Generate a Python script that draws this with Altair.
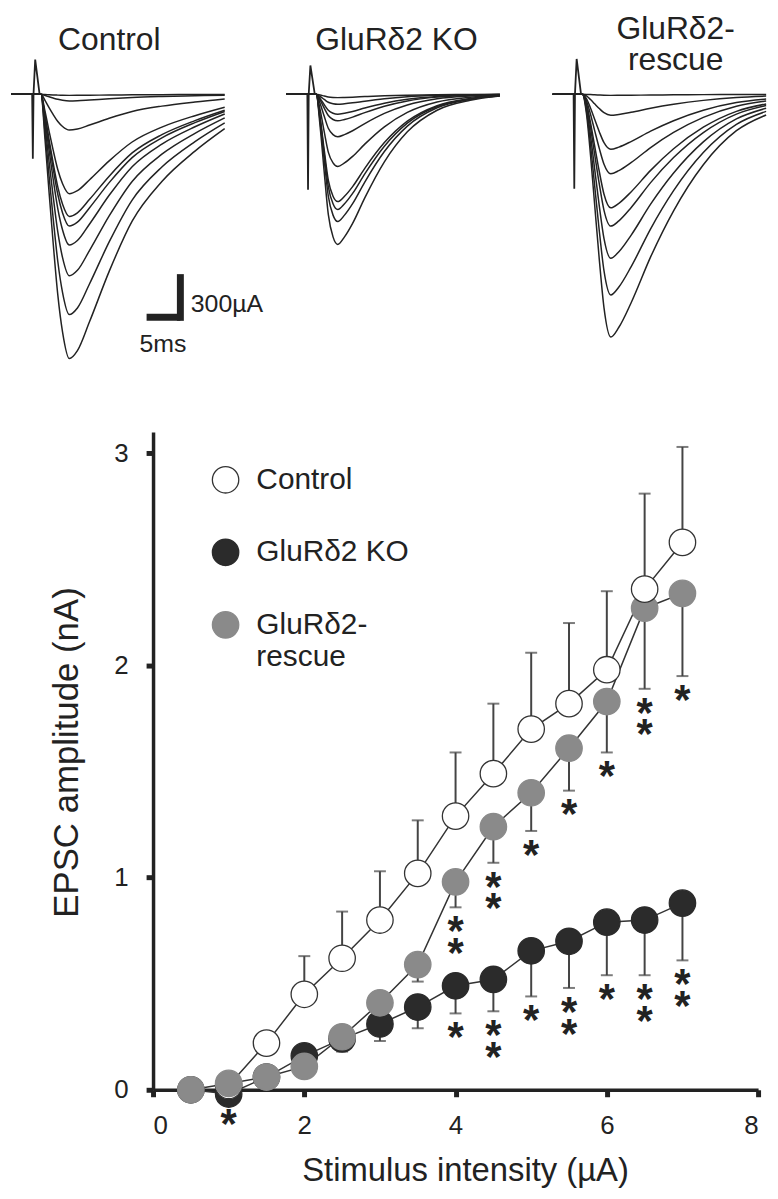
import altair as alt
import pandas as pd

FONT = "Liberation Sans"
INK = "#222222"

# ------------------------------------------------------------------
# Data
# ------------------------------------------------------------------
group_names = ["Control", "GluRδ2 KO", "GluRδ2-rescue"]

# Top: superimposed EPSC sweeps - peak amplitude of every sweep (pA)
peaks_control = [8, 50, 270, 750, 922, 995, 1138, 1370, 1663, 1995]
peaks_ko = [25, 75, 150, 200, 320, 545, 810, 870, 960, 1133]
peaks_rescue = [8, 158, 415, 600, 857, 995, 1238, 1515, 1832]

# normalised EPSC waveform of each genotype, sampled at these times (ms after stimulus)
sweep_time_ms = [-3.2, 1.2, 1.8, 2.4, 3.0, 3.7, 4.4, 5.4, 6.6, 8.4, 11.3, 14.7, 19.1, 24.0, 28.4]
shape_control = [0, 0, 0.17, 0.37, 0.56, 0.76, 0.90, 1.0, 0.97, 0.86, 0.67, 0.48, 0.33, 0.215, 0.13]
shape_ko = [0, 0, 0.22, 0.52, 0.80, 0.95, 1.0, 0.95, 0.86, 0.69, 0.45, 0.25, 0.106, 0.04, 0.012]
shape_rescue = [0, 0, 0.08, 0.25, 0.45, 0.68, 0.88, 1.0, 0.96, 0.86, 0.67, 0.48, 0.29, 0.15, 0.085]

# stimulus artefact (ms after stimulus; downward / upward deflection in pA)
artifact_time_ms = [-0.1, 0.0, 0.1, 0.35, 1.0]
artifact_down = [487, 720, 712]
artifact_up = [262, 218, 267]

scale_bar_ms = 5
scale_bar_amp = 300
scale_labels = ["300µA", "5ms"]

# Bottom: input-output relation
stimulus = [0.5, 1.0, 1.5, 2.0, 2.5, 3.0, 3.5, 4.0, 4.5, 5.0, 5.5, 6.0, 6.5, 7.0]
control_mean = [None, 0.02, 0.22, 0.45, 0.62, 0.80, 1.02, 1.29, 1.49, 1.70, 1.82, 1.98, 2.36, 2.58]
control_sem = [None, 0.02, 0.04, 0.18, 0.22, 0.23, 0.25, 0.30, 0.33, 0.36, 0.38, 0.37, 0.45, 0.45]
ko_mean = [0.0, -0.02, 0.06, 0.16, 0.24, 0.31, 0.39, 0.49, 0.52, 0.655, 0.70, 0.79, 0.80, 0.88]
ko_sem = [0.0, 0.03, 0.03, 0.05, 0.06, 0.08, 0.10, 0.13, 0.15, 0.215, 0.22, 0.25, 0.26, 0.27]
rescue_mean = [0.0, 0.03, 0.06, 0.11, 0.25, 0.41, 0.59, 0.98, 1.24, 1.40, 1.61, 1.83, 2.27, 2.34]
rescue_sem = [0.0, 0.02, 0.03, 0.04, 0.06, 0.07, 0.08, 0.12, 0.17, 0.18, 0.20, 0.24, 0.38, 0.39]
control_stars = [0] * 14
ko_stars = [0, 1, 0, 0, 0, 0, 0, 1, 2, 1, 2, 1, 2, 2]
rescue_stars = [0, 0, 0, 0, 0, 0, 0, 2, 2, 1, 1, 1, 2, 1]

x_ticks = [0, 2, 4, 6, 8]
y_ticks = [0, 1, 2, 3]

# ------------------------------------------------------------------
# Layout (pixels of the page)
# ------------------------------------------------------------------
PLOT_LEFT = 151      # page x of the y axis / left edge of both plot areas
TOP_W, TOP_H = 619, 352
PX_PER_MS = 6.8
PA_PER_PX = 7.5
BASE_Y = 90          # page y of the trace baseline
TOP_Y0 = 8
BOTTOM_Y0 = 430


def t_at(px):
    return (px - PLOT_LEFT) / PX_PER_MS


def a_at(py):
    return (BASE_Y - py) * PA_PER_PX


stim_px = [30, 307, 575]

# ------------------------------------------------------------------
# Top panel
# ------------------------------------------------------------------
rows = []
art_rows = []
for g, (peaks, shape, sx) in enumerate(zip([peaks_control, peaks_ko, peaks_rescue],
                                           [shape_control, shape_ko, shape_rescue], stim_px)):
    t0 = t_at(sx)
    for i, p in enumerate(peaks):
        for t, s in zip(sweep_time_ms, shape):
            rows.append({"trace": f"{g}-{i}", "t": t0 + t, "amp": -p * s})
    amps = [0, -artifact_down[g], 0, artifact_up[g], 0]
    for t, a in zip(artifact_time_ms, amps):
        art_rows.append({"grp": g, "t": t0 + t, "amp": a})
traces = pd.DataFrame(rows)
artifacts = pd.DataFrame(art_rows)

xs = alt.Scale(domain=[0, TOP_W / PX_PER_MS], nice=False, zero=False)
ys = alt.Scale(domain=[a_at(TOP_Y0 + TOP_H), a_at(TOP_Y0)], nice=False, zero=False)

trace_layer = alt.Chart(traces).mark_line(
    interpolate="monotone", color=INK, strokeWidth=1.5
).encode(
    x=alt.X("t:Q", scale=xs, axis=None),
    y=alt.Y("amp:Q", scale=ys, axis=None),
    detail="trace:N",
)

artifact_layer = alt.Chart(artifacts).mark_line(color=INK, strokeWidth=1.8).encode(
    x=alt.X("t:Q", scale=xs, axis=None),
    y=alt.Y("amp:Q", scale=ys, axis=None),
    detail="grp:N",
)

titles = pd.DataFrame({
    "label": ["Control", "GluRδ2 KO", "GluRδ2-", "rescue"],
    "t": [t_at(107), t_at(396), t_at(677), t_at(677)],
    "amp": [a_at(45), a_at(45), a_at(34), a_at(66)],
})
title_layer = alt.Chart(titles).mark_text(
    fontSize=32, align="center", baseline="alphabetic", color=INK
).encode(
    x=alt.X("t:Q", scale=xs, axis=None),
    y=alt.Y("amp:Q", scale=ys, axis=None),
    text="label:N",
)

tc, ac = t_at(178.5), a_at(314.5)
vbar = pd.DataFrame({"t": [tc], "a": [ac], "a2": [ac + scale_bar_amp]})
hbar = pd.DataFrame({"t": [tc - scale_bar_ms], "t2": [tc], "a": [ac]})
vbar_layer = alt.Chart(vbar).mark_rule(color=INK, strokeWidth=7, strokeCap="square").encode(
    x=alt.X("t:Q", scale=xs, axis=None),
    y=alt.Y("a:Q", scale=ys, axis=None),
    y2="a2:Q",
)
hbar_layer = alt.Chart(hbar).mark_rule(color=INK, strokeWidth=7).encode(
    x=alt.X("t:Q", scale=xs, axis=None),
    x2="t2:Q",
    y=alt.Y("a:Q", scale=ys, axis=None),
)
sb_text = pd.DataFrame({
    "label": scale_labels,
    "t": [t_at(189), t_at(161)],
    "amp": [a_at(301), a_at(341)],
})
sb_amp = alt.Chart(sb_text.iloc[[0]]).mark_text(
    fontSize=25, align="left", baseline="middle", color=INK
).encode(x=alt.X("t:Q", scale=xs, axis=None), y=alt.Y("amp:Q", scale=ys, axis=None), text="label:N")
sb_time = alt.Chart(sb_text.iloc[[1]]).mark_text(
    fontSize=25, align="center", baseline="middle", color=INK
).encode(x=alt.X("t:Q", scale=xs, axis=None), y=alt.Y("amp:Q", scale=ys, axis=None), text="label:N")

top = alt.layer(
    trace_layer, artifact_layer, title_layer, vbar_layer, hbar_layer, sb_amp, sb_time
).properties(width=TOP_W, height=TOP_H)

# ------------------------------------------------------------------
# Bottom panel
# ------------------------------------------------------------------
prow = []
srow = []
zbase = {"Control": 2, "GluRδ2 KO": 0, "GluRδ2-rescue": 1}
for name, means, sems, stars in [
    ("Control", control_mean, control_sem, control_stars),
    ("GluRδ2 KO", ko_mean, ko_sem, ko_stars),
    ("GluRδ2-rescue", rescue_mean, rescue_sem, rescue_stars),
]:
    for x, m, s, st in zip(stimulus, means, sems, stars):
        if m is None:
            continue
        end = m + s if name == "Control" else m - s
        z = zbase[name]
        if name == "Control" and x <= 1.0:
            z = 0.5
        prow.append({"series": name, "stim": x, "mean": m, "end": end, "z": z})
        for k in range(st):
            srow.append({"series": name, "stim": x, "end": end, "k": k})
points = pd.DataFrame(prow)
stars_df = pd.DataFrame(srow)

XT = "Stimulus intensity (µA)"
YT = "EPSC amplitude (nA)"
bx = alt.Scale(domain=[0, 8], nice=False, zero=False)
by = alt.Scale(domain=[0, 3.1], nice=False, zero=False)

x_axis = alt.Axis(
    values=x_ticks, format="d", grid=False, tickSize=7, tickWidth=5, domainWidth=3.5,
    domainColor=INK, tickColor=INK, labelColor=INK, labelFontSize=26, labelPadding=16,
    titleFontSize=33, titleFontWeight="normal", titleColor=INK, titlePadding=16, titleX=314,
)
y_axis = alt.Axis(
    values=y_ticks, format="d", grid=False, tickSize=7, tickWidth=5, domainWidth=3.5,
    domainColor=INK, tickColor=INK, labelColor=INK, labelFontSize=26, labelPadding=18,
    titleFontSize=35, titleFontWeight="normal", titleColor=INK, titlePadding=30, titleY=322,
)

X = alt.X("stim:Q", scale=bx, axis=x_axis, title=XT)
base = alt.Chart(points)

lines = base.mark_line(color="#333333", strokeWidth=1.5).encode(
    x=X, y=alt.Y("mean:Q", scale=by, axis=y_axis, title=YT), detail="series:N"
)
err = base.mark_rule(color="#444444", strokeWidth=2).encode(
    x=X, y=alt.Y("mean:Q", scale=by, axis=y_axis, title=YT), y2="end:Q"
)
caps = base.mark_tick(orient="horizontal", size=12, thickness=2, color="#444444").encode(
    x=X, y=alt.Y("end:Q", scale=by, axis=y_axis, title=YT)
)

# legend position is measured from the top of the whole figure in a vconcat
leg = alt.Legend(
    orient="none", legendX=58, legendY=(BOTTOM_Y0 - TOP_Y0) + 33, title=None, padding=0,
    labelFontSize=30, labelColor=INK, labelOffset=16, labelLimit=0,
    symbolSize=707, symbolStrokeWidth=1.3, symbolType="circle", rowPadding=41,
    labelExpr="datum.label == 'GluRδ2-rescue' ? ['GluRδ2-', ' rescue'] : datum.label",
)
fills = ["#ffffff", "#2b2b2b", "#8a8a8a"]
strokes = ["#333333", "#2b2b2b", "#8a8a8a"]
circles = base.mark_circle(size=707, opacity=1, strokeWidth=1.3).encode(
    x=X,
    y=alt.Y("mean:Q", scale=by, axis=y_axis, title=YT),
    fill=alt.Fill("series:N", scale=alt.Scale(domain=group_names, range=fills), legend=leg),
    stroke=alt.Stroke("series:N", scale=alt.Scale(domain=group_names, range=strokes), legend=leg),
    order=alt.Order("z:Q"),
)

star_base = alt.Chart(stars_df)
star1 = star_base.transform_filter("datum.k == 0").mark_text(
    text="*", fontSize=42, fontWeight="bold", baseline="alphabetic", align="center", dy=38, color=INK
).encode(x=X, y=alt.Y("end:Q", scale=by, axis=y_axis, title=YT))
star2 = star_base.transform_filter("datum.k == 1").mark_text(
    text="*", fontSize=42, fontWeight="bold", baseline="alphabetic", align="center", dy=60, color=INK
).encode(x=X, y=alt.Y("end:Q", scale=by, axis=y_axis, title=YT))

bottom = alt.layer(lines, err, caps, circles, star1, star2).properties(width=609, height=662)

chart = alt.vconcat(top, bottom, spacing=70, bounds="flush").properties(
    padding=0
).configure(font=FONT).configure_view(stroke=None)

chart.save("out.html", embed_options={"renderer": "svg", "actions": False})
